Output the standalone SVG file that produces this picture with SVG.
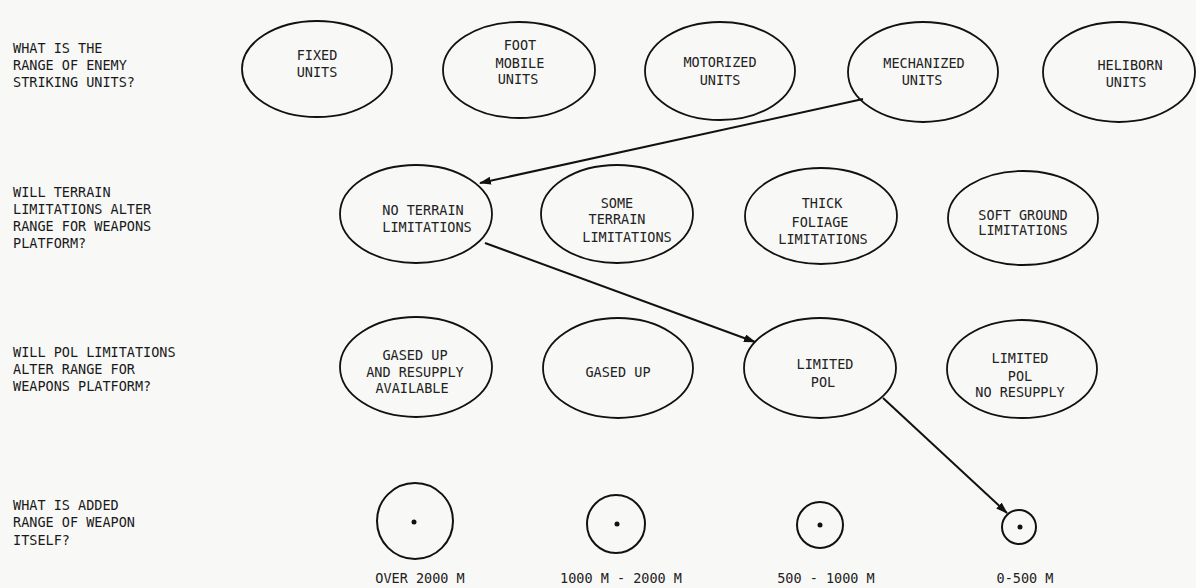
<svg xmlns="http://www.w3.org/2000/svg" width="1196" height="588" viewBox="0 0 1196 588">
<style>
.bg{fill:#f8f8f7}
.q{font-family:"DejaVu Sans Mono","Liberation Mono",monospace;font-size:13.5px;fill:#1a1a1a}
.t{font-family:"DejaVu Sans Mono","Liberation Mono",monospace;font-size:13.5px;fill:#222;text-anchor:middle}
.e{fill:none;stroke:#111;stroke-width:1.8}
.c{fill:none;stroke:#111;stroke-width:2}
.d{fill:#111}
.l{fill:none;stroke:#111;stroke-width:2;marker-end:url(#ah)}
</style>
<defs>
<marker id="ah" viewBox="0 0 12 8" refX="11" refY="4" markerWidth="12" markerHeight="8" markerUnits="userSpaceOnUse" orient="auto">
<path d="M0,0 L12,4 L0,8 z" fill="#111"/>
</marker>
</defs>
<rect class="bg" x="0" y="0" width="1196" height="588"/>
<g id="questions">
<text class="q" x="13" y="53">WHAT IS THE</text>
<text class="q" x="13" y="70">RANGE OF ENEMY</text>
<text class="q" x="13" y="87">STRIKING UNITS?</text>
<text class="q" x="13" y="197">WILL TERRAIN</text>
<text class="q" x="13" y="214">LIMITATIONS ALTER</text>
<text class="q" x="13" y="231">RANGE FOR WEAPONS</text>
<text class="q" x="13" y="248">PLATFORM?</text>
<text class="q" x="13" y="357">WILL POL LIMITATIONS</text>
<text class="q" x="13" y="374">ALTER RANGE FOR</text>
<text class="q" x="13" y="391">WEAPONS PLATFORM?</text>
<text class="q" x="13" y="510">WHAT IS ADDED</text>
<text class="q" x="13" y="527">RANGE OF WEAPON</text>
<text class="q" x="13" y="545">ITSELF?</text>
</g>
<g id="fixed"><ellipse class="e" cx="317" cy="69" rx="75" ry="48"/><text class="t" x="317" y="60">FIXED</text><text class="t" x="317" y="77">UNITS</text></g>
<g id="foot"><ellipse class="e" cx="519" cy="70" rx="76" ry="48"/><text class="t" x="520" y="50">FOOT</text><text class="t" x="520" y="68">MOBILE</text><text class="t" x="518" y="84">UNITS</text></g>
<g id="motorized"><ellipse class="e" cx="720" cy="71" rx="75" ry="49"/><text class="t" x="720" y="67">MOTORIZED</text><text class="t" x="720" y="85">UNITS</text></g>
<g id="mechanized"><ellipse class="e" cx="923" cy="72" rx="75" ry="50"/><text class="t" x="924" y="68">MECHANIZED</text><text class="t" x="922" y="85">UNITS</text></g>
<g id="heliborn"><ellipse class="e" cx="1119" cy="72" rx="76" ry="50"/><text class="t" x="1130" y="70">HELIBORN</text><text class="t" x="1126" y="87">UNITS</text></g>
<g id="noterrain"><ellipse class="e" cx="416" cy="214" rx="76" ry="49"/><text class="t" x="423" y="215">NO TERRAIN</text><text class="t" x="427" y="232">LIMITATIONS</text></g>
<g id="someterrain"><ellipse class="e" cx="617" cy="214" rx="76" ry="49"/><text class="t" x="617" y="208">SOME</text><text class="t" x="617" y="224">TERRAIN</text><text class="t" x="627" y="242">LIMITATIONS</text></g>
<g id="thickfoliage"><ellipse class="e" cx="821" cy="216" rx="76" ry="48"/><text class="t" x="822" y="208">THICK</text><text class="t" x="820" y="227">FOLIAGE</text><text class="t" x="823" y="244">LIMITATIONS</text></g>
<g id="softground"><ellipse class="e" cx="1023" cy="218" rx="75" ry="47"/><text class="t" x="1023" y="220">SOFT GROUND</text><text class="t" x="1023" y="235">LIMITATIONS</text></g>
<g id="gasedresupply"><ellipse class="e" cx="416" cy="367" rx="76" ry="50"/><text class="t" x="415" y="360">GASED UP</text><text class="t" x="415" y="377">AND RESUPPLY</text><text class="t" x="412" y="393">AVAILABLE</text></g>
<g id="gasedup"><ellipse class="e" cx="618" cy="368" rx="75" ry="50"/><text class="t" x="618" y="377">GASED UP</text></g>
<g id="limitedpol"><ellipse class="e" cx="820" cy="368" rx="76" ry="50"/><text class="t" x="825" y="369">LIMITED</text><text class="t" x="823" y="387">POL</text></g>
<g id="limitednoresupply"><ellipse class="e" cx="1022" cy="369" rx="75" ry="49"/><text class="t" x="1020" y="363">LIMITED</text><text class="t" x="1020" y="381">POL</text><text class="t" x="1020" y="397">NO RESUPPLY</text></g>
<g id="r1"><circle class="c" cx="415" cy="521" r="38"/><circle class="d" cx="414" cy="522" r="2.5"/><text class="t" x="420" y="583">OVER 2000 M</text></g>
<g id="r2"><circle class="c" cx="616" cy="524" r="29"/><circle class="d" cx="617" cy="524" r="2.5"/><text class="t" x="621" y="583">1000 M - 2000 M</text></g>
<g id="r3"><circle class="c" cx="820" cy="525" r="23"/><circle class="d" cx="820" cy="525" r="2.5"/><text class="t" x="826" y="583">500 - 1000 M</text></g>
<g id="r4"><circle class="c" cx="1019" cy="527" r="17"/><circle class="d" cx="1020" cy="527" r="2.5"/><text class="t" x="1025" y="583">0-500 M</text></g>
<g id="connectors">
<line class="l" x1="863" y1="99" x2="480" y2="183"/>
<line class="l" x1="485" y1="243" x2="755" y2="342"/>
<line class="l" x1="883" y1="398" x2="1007" y2="513"/>
</g>
</svg>
